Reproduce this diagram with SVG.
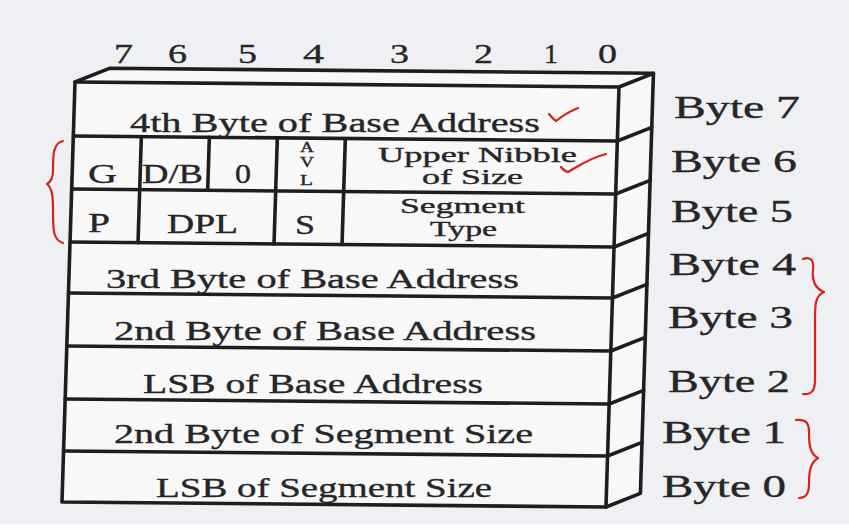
<svg xmlns="http://www.w3.org/2000/svg" width="849" height="531" viewBox="0 0 849 531">
<style>
.ln{fill:none;stroke:#1e1e1e;stroke-width:3.6;stroke-linejoin:round;stroke-linecap:round}
.face{fill:#f8f8f9}
.t{font-family:"Liberation Serif","DejaVu Serif",serif;fill:#262626;stroke:#262626;stroke-width:0.35}
.r{font-size:27px}
.s{font-size:21px}
.b{font-size:31px}
.d{font-size:28px}
.a{font-size:14px}
.red{fill:none;stroke:#d8231c;stroke-width:2.2;stroke-linecap:round;stroke-linejoin:round}
</style>
<rect width="849" height="531" fill="#eff0f3"/>
<rect y="524" width="849" height="7" fill="#fcfcfc"/>

<g id="bit-numbers" class="t d">
<text x="114" y="63" textLength="19" lengthAdjust="spacingAndGlyphs">7</text>
<text x="168" y="63" textLength="19" lengthAdjust="spacingAndGlyphs">6</text>
<text x="238" y="63" textLength="19" lengthAdjust="spacingAndGlyphs">5</text>
<text x="303" y="63" textLength="21" lengthAdjust="spacingAndGlyphs">4</text>
<text x="390" y="63" textLength="19" lengthAdjust="spacingAndGlyphs">3</text>
<text x="474" y="63" textLength="19" lengthAdjust="spacingAndGlyphs">2</text>
<text x="544" y="63" textLength="14" lengthAdjust="spacingAndGlyphs">1</text>
<text x="598" y="63" textLength="19" lengthAdjust="spacingAndGlyphs">0</text>
</g>

<g id="box" transform="matrix(1 0.0092 -0.031 1 75 82)">
<polygon class="face" points="0,0 544,0 578,-14 34,-14"/>
<polygon class="face" points="544,0 578,-14 578,406 544,420"/>
<rect class="face" x="0" y="0" width="544" height="420"/>
<g class="ln">
<polygon points="0,0 34,-14 578,-14 578,406 544,420 0,420"/>
<path d="M0,0 H544 V420 M544,0 L578,-14"/>
<path d="M0,54 H544 L578,40 M0,107 H544 L578,93 M0,160 H544 L578,146 M0,211 H544 L578,197 M0,264 H544 L578,250 M0,317 H544 L578,303 M0,369 H544 L578,355"/>
<path d="M68,54 V160 M136,54 V107 M204,54 V160 M272,54 V160"/>
</g>
</g>

<g id="byte7-row" class="t r">
<text x="130" y="132" textLength="410" lengthAdjust="spacingAndGlyphs">4th Byte of Base Address</text>
</g>
<g id="byte6-row" class="t">
<text class="r" x="88" y="183" textLength="29" lengthAdjust="spacingAndGlyphs">G</text>
<text class="r" x="142" y="183" textLength="61" lengthAdjust="spacingAndGlyphs">D/B</text>
<text class="r" x="235" y="183" textLength="16" lengthAdjust="spacingAndGlyphs">0</text>
<text class="a" x="300" y="152" textLength="14" lengthAdjust="spacingAndGlyphs">A</text>
<text class="a" x="300" y="167" textLength="14" lengthAdjust="spacingAndGlyphs">V</text>
<text class="a" x="300" y="185" textLength="13" lengthAdjust="spacingAndGlyphs">L</text>
<text class="s" x="378" y="162" textLength="199" lengthAdjust="spacingAndGlyphs">Upper Nibble</text>
<text class="s" x="422" y="184" textLength="101" lengthAdjust="spacingAndGlyphs">of Size</text>
</g>
<g id="byte5-row" class="t">
<text class="r" x="88" y="232" textLength="22" lengthAdjust="spacingAndGlyphs">P</text>
<text class="r" x="167" y="233" textLength="71" lengthAdjust="spacingAndGlyphs">DPL</text>
<text class="r" x="295" y="234" textLength="20" lengthAdjust="spacingAndGlyphs">S</text>
<text class="s" x="400" y="213" textLength="125" lengthAdjust="spacingAndGlyphs">Segment</text>
<text class="s" x="430" y="236" textLength="67" lengthAdjust="spacingAndGlyphs">Type</text>
</g>
<g id="byte4-row" class="t r"><text x="106" y="288" textLength="413" lengthAdjust="spacingAndGlyphs">3rd Byte of Base Address</text></g>
<g id="byte3-row" class="t r"><text x="114" y="340" textLength="422" lengthAdjust="spacingAndGlyphs">2nd Byte of Base Address</text></g>
<g id="byte2-row" class="t r"><text x="143" y="393" textLength="340" lengthAdjust="spacingAndGlyphs">LSB of Base Address</text></g>
<g id="byte1-row" class="t r"><text x="114" y="443" textLength="419" lengthAdjust="spacingAndGlyphs">2nd Byte of Segment Size</text></g>
<g id="byte0-row" class="t r"><text x="156" y="497" textLength="336" lengthAdjust="spacingAndGlyphs">LSB of Segment Size</text></g>

<g id="byte-labels" class="t b">
<text x="674" y="118" textLength="126" lengthAdjust="spacingAndGlyphs">Byte 7</text>
<text x="671" y="172" textLength="126" lengthAdjust="spacingAndGlyphs">Byte 6</text>
<text x="671" y="222" textLength="122" lengthAdjust="spacingAndGlyphs">Byte 5</text>
<text x="669" y="275" textLength="127" lengthAdjust="spacingAndGlyphs">Byte 4</text>
<text x="668" y="328" textLength="125" lengthAdjust="spacingAndGlyphs">Byte 3</text>
<text x="668" y="392" textLength="122" lengthAdjust="spacingAndGlyphs">Byte 2</text>
<text x="662" y="443" textLength="124" lengthAdjust="spacingAndGlyphs">Byte 1</text>
<text x="662" y="497" textLength="124" lengthAdjust="spacingAndGlyphs">Byte 0</text>
</g>

<g id="annotations" class="red">
<path d="M549,114 Q553,119 556,121 Q566,113 578,108"/>
<path d="M561,167 Q564,171 568,172 C580,165 592,157 606,154"/>
<path d="M63,141 C53,143 53,155 53,170 C53,178 51,182 47,184 C52,188 53,196 53,210 C53,230 53,240 63,243"/>
<path d="M803,259 C812,256 814,262 813,270 C812,280 814,288 824,292 C815,296 815,305 815,320 L815,380 C815,390 812,395 803,394"/>
<path d="M796,420 C806,419 809,423 809,432 C809,445 810,454 818,458 C810,463 809,472 809,484 C809,494 806,498 799,498"/>
</g>
</svg>
